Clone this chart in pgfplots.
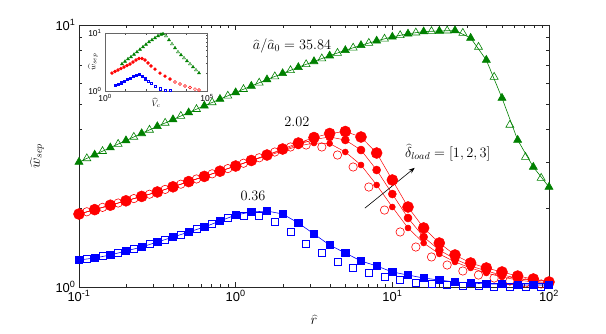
\documentclass[border=0pt]{standalone}
\usepackage{pgfplots}
\pgfplotsset{compat=1.18}
\usepackage{pgfplotstable}
\usepackage{fontspec}
\usetikzlibrary{arrows.meta}
\newfontfamily\helv{Liberation Sans}
\newcommand\tl[1]{10\textsuperscript{#1}}

\definecolor{mblue}{RGB}{0,0,255}
\definecolor{mred}{RGB}{255,0,0}
\definecolor{mgreen}{RGB}{0,128,0}

% model curves (filled markers, with lines)
\pgfplotstableread{
x      g      r3     r2     r1     b
0.1    3.000  1.899  1.899  1.899  1.268
0.1259 3.196  1.974  1.974  1.974  1.290
0.1585 3.404  2.052  2.052  2.052  1.325
0.1995 3.624  2.133  2.133  2.133  1.372
0.2512 3.857  2.217  2.217  2.217  1.421
0.3162 4.102  2.305  2.305  2.305  1.485
0.3981 4.358  2.412  2.412  2.412  1.551
0.5012 4.631  2.525  2.525  2.525  1.621
0.6310 4.916  2.643  2.643  2.643  1.694
0.7943 5.214  2.767  2.767  2.767  1.786
1      5.526  2.896  2.896  2.896  1.883
1.259  5.851  3.040  3.040  3.040  1.933
1.585  6.189  3.190  3.190  3.162  1.950
1.995  6.536  3.363  3.333  3.304  1.900
2.512  6.896  3.545  3.498  3.453  1.755
3.162  7.262  3.720  3.656  3.545  1.593
3.981  7.636  3.854  3.737  3.529  1.446
5.012  8.007  3.922  3.640  3.276  1.348
6.310  8.366  3.737  3.333  2.922  1.257
7.943  8.703  3.247  2.796  2.451  1.203
10     9.007  2.561  2.264  2.020  1.141
12.59  9.256  2.020  1.834  1.680  1.111
15.85  9.437  1.680  1.552  1.472  1.082
19.95  9.487  1.472  1.384  1.337  1.063
25.12  9.528  1.325  1.279  1.246  1.045
31.62  8.921  1.235  1.203  1.182  1.036
39.81  7.352  1.182  1.151  1.131  1.027
50.12  5.265  1.141  1.111  1.092  1.027
63.10  3.640  1.101  1.082  1.063  1.018
79.43  2.871  1.073  1.054  1.045  1.018
100    2.408  1.045  1.036  1.027  1.018
}\filled

% simulations (open markers)
\pgfplotstableread{
x      g      r      b
0.1122 3.096  1.937  1.279
0.1413 3.298  2.013  1.313
0.1778 3.512  2.092  1.348
0.2239 3.738  2.175  1.396
0.2818 3.978  2.260  1.459
0.3548 4.228  2.358  1.512
0.4467 4.492  2.468  1.579
0.5623 4.771  2.584  1.665
0.7079 5.063  2.704  1.740
0.8913 5.367  2.831  1.834
1.122  5.686  2.967  1.866
1.413  6.017  3.114  1.866
1.778  6.360  3.275  1.771
2.239  6.713  3.423  1.621
2.818  7.076  3.483  1.459
3.548  7.446  3.423  1.348
4.467  7.819  3.190  1.246
5.623  8.184  2.871  1.182
7.079  8.533  2.408  1.131
8.913  8.854  1.967  1.092
11.22  9.130  1.622  1.063
14.13  9.346  1.421  1.036
17.78  9.462  1.302  1.027
22.39  9.512  1.213  1.018
28.18  9.321  1.151  1.009
35.48  8.242  1.111  1.009
44.67  6.332  1.082  1.000
56.23  4.153  1.054  1.000
70.79  3.134  1.036  1.000
89.13  2.606  1.027  1.000
}\hollow

\begin{document}
\begin{tikzpicture}
\begin{axis}[
  name=main, at={(0,0)}, anchor=south west,
  scale only axis, width=470bp, height=262bp,
  xmode=log, ymode=log, xmin=0.1, xmax=100, ymin=1, ymax=10,
  xtick={0.1,1,10,100}, xticklabels={\tl{-1},\tl{0},\tl{1},\tl{2}},
  ytick={1,10}, yticklabels={\tl{0},\tl{1}},
  ticklabel style={font=\helv\fontsize{13}{15}\selectfont},
  axis line style={black!85, line width=0.5pt},
  every tick/.style={black!85, line width=0.5pt},
  major tick length=5bp, minor tick length=2.8bp,
  clip=false,
  xlabel={$\widehat{r}$}, ylabel={$\widehat{w}_{sep}$},
  label style={font=\fontsize{14}{16}\selectfont},
  xlabel style={at={(axis description cs:0.5,-0.125)}, anchor=center},
  ylabel style={at={(axis description cs:-0.089,0.5)}, anchor=center},
]
  % green
  \addplot[mgreen, line width=0.6pt, mark=triangle*, mark size=4.6bp] table[x=x,y=g] {\filled};
  \addplot[mgreen, only marks, mark=triangle, mark size=4.6bp, mark options={line width=0.6pt}] table[x=x,y=g] {\hollow};
  % red
  \addplot[mred, line width=0.5pt, mark=*, mark size=5.5bp] table[x=x,y=r3] {\filled};
  \addplot[mred, line width=0.5pt, mark=*, mark size=4bp] table[x=x,y=r2] {\filled};
  \addplot[mred, line width=0.5pt, mark=*, mark size=3bp] table[x=x,y=r1] {\filled};
  \addplot[mred, only marks, mark=o, mark size=4.2bp, mark options={line width=0.6pt}] table[x=x,y=r] {\hollow};
  % blue
  \addplot[mblue, line width=0.6pt, mark=square*, mark size=3.6bp] table[x=x,y=b] {\filled};
  \addplot[mblue, only marks, mark=square, mark size=3.6bp, mark options={line width=0.6pt}] table[x=x,y=b] {\hollow};

  \node[font=\fontsize{14.5}{16}\selectfont] at (axis cs:2.29,8.31) {$\widehat{a}/\widehat{a}_0 = 35.84$};
  \node[font=\fontsize{14.5}{16}\selectfont] at (axis cs:2.46,4.26) {$2.02$};
  \node[font=\fontsize{14.5}{16}\selectfont] at (axis cs:1.29,2.23) {$0.36$};
  \node[font=\fontsize{14.5}{16}\selectfont] at (axis cs:22.6,3.25) {$\widehat{\delta}_{load} = [1,2,3]$};
  \draw[-{Stealth[length=6bp,width=4.5bp]}, line width=0.6pt] (axis cs:6.68,2.00) -- (axis cs:13.9,2.85);
\end{axis}

\begin{axis}[
  at={(26bp,196bp)}, anchor=south west,
  scale only axis, width=102bp, height=58bp,
  axis background/.style={fill=white},
  xmode=log, ymode=log, xmin=1, xmax=1e5, ymin=1, ymax=10,
  xtick={1,10,100,1000,10000,100000}, xticklabels={\tl{0},,,,,\tl{5}},
  xminorticks=false,
  ytick={1,10}, yticklabels={\tl{0},\tl{1}},
  ticklabel style={font=\helv\fontsize{8.5}{9}\selectfont},
  axis line style={black!60, line width=0.4pt},
  every tick/.style={black!70, line width=0.4pt},
  major tick length=2.5bp, minor tick length=1.5bp,
  xlabel={$\widehat{V}_c$}, ylabel={$\widehat{w}_{sep}$},
  label style={font=\fontsize{8}{9}\selectfont},
  xlabel style={at={(axis description cs:0.5,-0.2)}, anchor=center},
  ylabel style={at={(axis description cs:-0.12,0.5)}, anchor=center},
]
  \addplot[mgreen, only marks, mark=triangle*, mark size=1.8bp] coordinates {
    (6.81,2.92) (9.56,3.23) (13.41,3.56) (18.82,3.86) (26.40,4.26) (37.04,4.70)
    (51.96,5.19) (72.90,5.74) (102.3,6.33) (143.5,7.00) (201.3,7.57) (282.5,8.20)
    (396.3,8.88) (556.0,9.42) (696.9,9.61) (1372,7.57) (2700,5.51) (5315,4.18)
    (10461,3.29) (20593,2.59) (40535,2.04)};
  \addplot[mgreen, only marks, mark=triangle, mark size=1.8bp] coordinates {
    (977.7,8.88) (1924,6.46) (3788,4.70) (7456,3.71) (14678,2.92) (28892,2.30)};
  \addplot[mred, only marks, mark=*, mark size=1.5bp] coordinates {
    (2.20,2.04) (3.09,2.17) (4.34,2.30) (6.08,2.44) (8.54,2.59) (11.98,2.75)
    (16.81,2.92) (23.58,3.16) (33.08,3.42) (46.42,3.63) (65.13,3.63) (91.37,3.42)
    (128.2,3.04) (179.8,2.70) (282.5,2.39) (496.7,2.04) (873.6,1.81) (1536,1.61)};
  \addplot[mred, only marks, mark=o, mark size=1.5bp] coordinates {
    (2700,1.43) (4748,1.32) (8349,1.22) (14678,1.15) (25808,1.08) (40535,1.04)};
  \addplot[mblue, only marks, mark=square*, mark size=1.2bp] coordinates {
    (3.09,1.27) (4.34,1.32) (6.08,1.40) (8.54,1.49) (11.98,1.58) (16.81,1.68)
    (23.58,1.78) (33.08,1.89) (46.42,1.93) (65.13,1.81) (91.37,1.64)};
  \addplot[mblue, only marks, mark=square, mark size=1.2bp] coordinates {
    (128.2,1.49) (179.8,1.35) (282.5,1.22) (496.7,1.10) (873.6,1.04) (1536,1.02)};
\end{axis}

\pgfresetboundingbox
\path[use as bounding box] (-79bp,-47bp) rectangle (527bp,287bp);
\end{tikzpicture}
\end{document}
